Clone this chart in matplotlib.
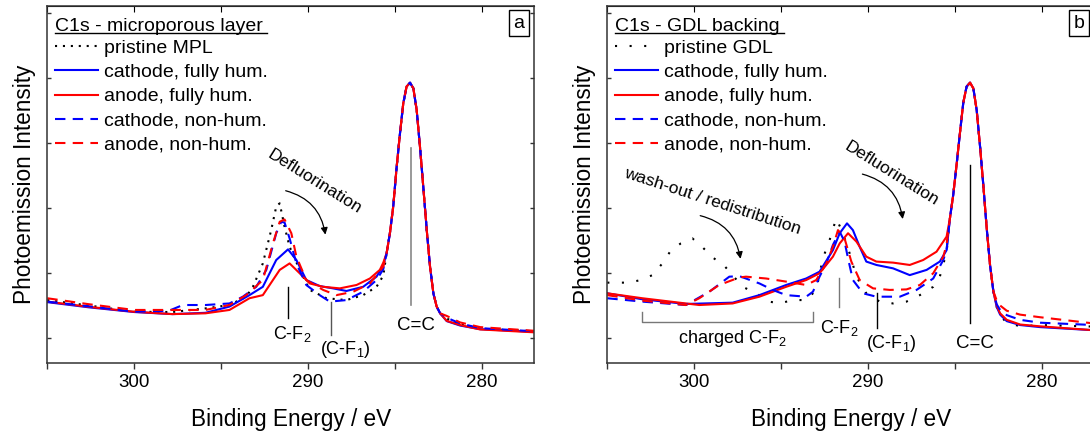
import numpy as np
import matplotlib
matplotlib.use('Agg')
import matplotlib.pyplot as plt
from matplotlib.ticker import MultipleLocator
from matplotlib.patches import FancyArrowPatch

plt.rcParams['font.family'] = ['Liberation Sans', 'DejaVu Sans']
plt.rcParams['mathtext.fontset'] = 'custom'
plt.rcParams['mathtext.rm'] = 'Liberation Sans'
plt.rcParams['mathtext.it'] = 'Liberation Sans:italic'

# ---- shared C=C main peak ----
pk_E = [285.48, 285.29, 285.10, 284.90, 284.71, 284.52, 284.33, 284.13, 283.94,
        283.75, 283.56, 283.37, 283.17, 282.98, 282.79, 282.60, 282.40]
pk_I = [0.326, 0.403, 0.505, 0.659, 0.787, 0.903, 0.967, 0.982, 0.960,
        0.877, 0.736, 0.582, 0.415, 0.274, 0.172, 0.121, 0.095]
tail_E = [282.02, 281.25, 280.10, 277.0]

# ---- panel a : microporous layer ----
a_mpl_E = [305.0, 302.6, 300.0, 297.8, 295.9, 294.52, 293.56, 293.17, 292.60, 292.12, 291.83,
           291.63, 291.35, 291.06, 290.48, 289.90, 288.94, 287.79, 286.83, 286.06, 285.67]
a_mpl_I = [0.146, 0.125, 0.101, 0.100, 0.114, 0.127, 0.159, 0.197, 0.287, 0.415, 0.505,
           0.518, 0.428, 0.351, 0.262, 0.185, 0.153, 0.146, 0.165, 0.197, 0.240]
a_mpl_tail = [0.075, 0.052, 0.036, 0.026]

a_cf_E = [305.0, 302.6, 300.0, 297.8, 295.9, 294.52, 293.37, 292.60, 291.83, 291.15, 290.67,
          290.10, 289.33, 288.56, 287.79, 286.83, 286.06, 285.67]
a_cf_I = [0.138, 0.118, 0.100, 0.092, 0.097, 0.121, 0.165, 0.197, 0.300, 0.341, 0.300,
          0.223, 0.200, 0.191, 0.181, 0.197, 0.236, 0.280]
a_cf_tail = [0.065, 0.048, 0.034, 0.024]

a_af_E = [305.0, 302.6, 300.0, 297.8, 295.9, 294.52, 293.37, 292.60, 291.63, 291.06, 290.48,
          289.90, 289.13, 288.17, 287.21, 286.44, 285.87, 285.67]
a_af_I = [0.140, 0.120, 0.101, 0.092, 0.095, 0.108, 0.153, 0.165, 0.262, 0.287, 0.249,
          0.210, 0.197, 0.191, 0.204, 0.229, 0.262, 0.290]
a_af_tail = [0.066, 0.050, 0.033, 0.022]

a_cn_E = [305.0, 302.6, 300.0, 298.0, 297.2, 295.9, 294.52, 293.75, 292.98, 292.40, 291.83,
          291.54, 291.35, 291.06, 290.67, 290.10, 289.33, 288.75, 287.79, 286.83, 286.06, 285.67]
a_cn_I = [0.140, 0.122, 0.101, 0.105, 0.127, 0.127, 0.133, 0.159, 0.197, 0.262, 0.403,
          0.447, 0.444, 0.383, 0.287, 0.204, 0.165, 0.140, 0.146, 0.178, 0.223, 0.265]
a_cn_tail = [0.078, 0.056, 0.038, 0.026]

a_an_E = [305.0, 302.6, 300.0, 297.8, 295.9, 294.52, 293.56, 292.60, 292.02, 291.63, 291.35,
          290.96, 290.67, 290.10, 289.13, 288.37, 287.40, 286.44, 285.67]
a_an_I = [0.153, 0.130, 0.108, 0.108, 0.108, 0.127, 0.165, 0.223, 0.364, 0.447, 0.456,
          0.403, 0.313, 0.223, 0.185, 0.165, 0.178, 0.210, 0.275]
a_an_tail = [0.085, 0.060, 0.042, 0.028]

# ---- panel b : GDL backing ----
pkb_E = [285.29, 285.10, 284.90, 284.71, 284.52, 284.33, 284.13, 283.94, 283.75, 283.56,
         283.37, 283.17, 282.98, 282.79]
pkb_I = [0.46, 0.55, 0.67, 0.79, 0.905, 0.967, 0.982, 0.960, 0.877, 0.74,
         0.59, 0.42, 0.28, 0.18]
tailb_E = [282.60, 282.40, 282.02, 281.25, 280.10, 277.0]

b_gdl_E = [305.0, 303.75, 303.08, 302.40, 301.83, 301.35, 300.77, 300.10, 299.52, 298.94, 298.27,
           297.21, 296.44, 295.67, 295.10, 294.33, 293.56, 292.98, 292.60, 292.21, 291.83, 291.44,
           291.06, 290.67, 290.10, 289.33, 288.56, 287.79, 287.02, 286.25, 285.87, 285.48]
b_gdl_I = [0.213, 0.213, 0.223, 0.242, 0.287, 0.336, 0.364, 0.383, 0.349, 0.310, 0.278,
           0.197, 0.172, 0.140, 0.133, 0.146, 0.146, 0.185, 0.306, 0.377, 0.460, 0.403,
           0.326, 0.236, 0.172, 0.140, 0.133, 0.140, 0.165, 0.197, 0.236, 0.330]
b_gdl_tail = [0.120, 0.085, 0.060, 0.045, 0.050, 0.044]

b_cf_E = [305.0, 302.98, 300.48, 297.79, 296.25, 294.71, 293.56, 292.79, 292.02, 291.63, 291.21,
          290.87, 290.48, 290.10, 289.52, 288.56, 287.60, 286.63, 285.87, 285.48]
b_cf_I = [0.172, 0.149, 0.131, 0.136, 0.165, 0.204, 0.229, 0.255, 0.338, 0.403, 0.441,
          0.415, 0.351, 0.294, 0.281, 0.268, 0.242, 0.262, 0.294, 0.338]
b_cf_tail = [0.120, 0.090, 0.065, 0.050, 0.042, 0.030]

b_af_E = [305.0, 302.98, 300.48, 299.71, 297.79, 296.25, 294.71, 293.56, 292.79, 292.02, 291.63,
          291.15, 290.67, 290.10, 289.52, 288.56, 287.60, 286.83, 286.06, 285.48]
b_af_I = [0.172, 0.153, 0.133, 0.127, 0.133, 0.159, 0.197, 0.223, 0.249, 0.313, 0.364,
          0.403, 0.371, 0.313, 0.294, 0.290, 0.281, 0.300, 0.332, 0.390]
b_af_tail = [0.125, 0.095, 0.070, 0.052, 0.045, 0.030]

b_cn_E = [305.0, 302.98, 300.48, 299.13, 297.98, 297.40, 296.25, 295.48, 294.71, 293.56, 293.17,
          292.79, 292.40, 292.02, 291.63, 291.35, 291.15, 290.87, 290.29, 289.52, 288.17, 287.21,
          286.25, 285.67, 285.48]
b_cn_I = [0.153, 0.140, 0.127, 0.178, 0.236, 0.238, 0.210, 0.185, 0.165, 0.159, 0.178,
          0.236, 0.287, 0.358, 0.409, 0.371, 0.306, 0.223, 0.172, 0.159, 0.159, 0.185,
          0.229, 0.300, 0.340]
b_cn_tail = [0.130, 0.108, 0.088, 0.070, 0.059, 0.050]

b_an_E = [305.0, 302.98, 300.48, 299.71, 298.56, 297.40, 297.02, 295.87, 294.71, 293.56, 292.98,
          292.40, 292.02, 291.73, 291.35, 290.96, 290.48, 289.71, 288.75, 287.79, 287.02, 286.25,
          285.67, 285.48]
b_an_I = [0.165, 0.144, 0.127, 0.153, 0.204, 0.233, 0.236, 0.229, 0.217, 0.204, 0.223,
          0.287, 0.351, 0.415, 0.383, 0.294, 0.223, 0.191, 0.185, 0.187, 0.204, 0.249,
          0.313, 0.360]
b_an_tail = [0.145, 0.125, 0.105, 0.090, 0.080, 0.056]

labels_a = ['pristine MPL', 'cathode, fully hum.', 'anode, fully hum.',
            'cathode, non-hum.', 'anode, non-hum.']
labels_b = ['pristine GDL', 'cathode, fully hum.', 'anode, fully hum.',
            'cathode, non-hum.', 'anode, non-hum.']

W, H = 1090, 433
fig = plt.figure(figsize=(W / 100, H / 100), dpi=100)
ax_a = fig.add_axes([47.3 / W, 70 / H, 486.7 / W, 357.3 / H])
ax_b = fig.add_axes([607.3 / W, 70 / H, 486.7 / W, 357.3 / H])

dash = (0, (5, 3.5))


def style_axes(ax, letter, title):
    ax.set_xlim(305, 277)
    ax.set_ylim(-0.096, 1.278)
    ax.xaxis.set_major_locator(MultipleLocator(10))
    ax.xaxis.set_minor_locator(MultipleLocator(5))
    ax.yaxis.set_major_locator(MultipleLocator(0.25))
    ax.tick_params(axis='x', which='both', direction='out', length=4, width=1,
                   labelsize=13.5, pad=4, colors='#333333', labelcolor='black')
    ax.tick_params(axis='y', which='both', direction='in', length=3, width=1,
                   left=True, right=True, labelleft=False, colors='#333333')
    ax.secondary_xaxis('top').tick_params(direction='in', length=4, labeltop=False)
    for s in ax.spines.values():
        s.set_color('#333333')
        s.set_linewidth(1.1)
    ax.set_xlabel('Binding Energy / eV', fontsize=16.3, labelpad=12)
    ax.set_ylabel('Photoemission Intensity', fontsize=16.3, labelpad=8)
    ax.text(0.98, 0.975, letter, transform=ax.transAxes, ha='right', va='top', fontsize=14,
            bbox=dict(boxstyle='square,pad=0.22', fc='white', ec='black', lw=1))
    t = ax.text(0.0158, 0.930, title, transform=ax.transAxes, ha='left', va='baseline',
                fontsize=14)
    ax.legend(loc='upper left', bbox_to_anchor=(0.0158, 0.905), frameon=False,
              fontsize=14, handlelength=2.2, handletextpad=0.3, labelspacing=0.33,
              borderaxespad=0, borderpad=0)
    return t


def arrow(ax, p0, p1, rad):
    ax.add_patch(FancyArrowPatch(p0, p1, connectionstyle='arc3,rad=%g' % rad,
                                 arrowstyle='-|>', mutation_scale=10, lw=0.9, color='black'))


# panel a
ax = ax_a
ax.plot(a_mpl_E + pk_E + tail_E, a_mpl_I + pk_I + a_mpl_tail, color='black', lw=1.5,
        linestyle=(0, (1, 2.8)), label=labels_a[0])
ax.plot(a_cf_E + pk_E + tail_E, a_cf_I + pk_I + a_cf_tail, color='#0000ff', lw=1.5, label=labels_a[1])
ax.plot(a_af_E + pk_E + tail_E, a_af_I + pk_I + a_af_tail, color='#ff0000', lw=1.5, label=labels_a[2])
ax.plot(a_cn_E + pk_E + tail_E, a_cn_I + pk_I + a_cn_tail, color='#0000ff', lw=1.5,
        linestyle=dash, label=labels_a[3])
ax.plot(a_an_E + pk_E + tail_E, a_an_I + pk_I + a_an_tail, color='#ff0000', lw=1.5,
        linestyle=dash, label=labels_a[4])
title_a = style_axes(ax, 'a', 'C1s - microporous layer')

ax.plot([291.15, 291.15], [0.076, 0.197], color='black', lw=1)
ax.text(290.92, 0.015, 'C-F$_2$', ha='center', va='center', fontsize=13)
ax.plot([288.7, 288.7], [0.012, 0.14], color='#555555', lw=1)
ax.text(287.88, -0.045, '(C-F$_1$)', ha='center', va='center', fontsize=13)
ax.plot([284.1, 284.1], [0.127, 0.73], color='#888888', lw=1.2)
ax.text(283.79, 0.05, 'C=C', ha='center', va='center', fontsize=13.5)
ax.text(289.6, 0.601, 'Defluorination', rotation=-32, rotation_mode='anchor',
        ha='center', va='center', fontsize=12.5)
arrow(ax, (291.44, 0.569), (288.98, 0.387), -0.35)

# panel b
ax = ax_b
ax.plot(b_gdl_E + pkb_E + tailb_E, b_gdl_I + pkb_I + b_gdl_tail, color='black', lw=1.5,
        linestyle=(0, (1, 6)), label=labels_b[0])
ax.plot(b_cf_E + pkb_E + tailb_E, b_cf_I + pkb_I + b_cf_tail, color='#0000ff', lw=1.5, label=labels_b[1])
ax.plot(b_af_E + pkb_E + tailb_E, b_af_I + pkb_I + b_af_tail, color='#ff0000', lw=1.5, label=labels_b[2])
ax.plot(b_cn_E + pkb_E + tailb_E, b_cn_I + pkb_I + b_cn_tail, color='#0000ff', lw=1.5,
        linestyle=dash, label=labels_b[3])
ax.plot(b_an_E + pkb_E + tailb_E, b_an_I + pkb_I + b_an_tail, color='#ff0000', lw=1.5,
        linestyle=dash, label=labels_b[4])
title_b = style_axes(ax, 'b', 'C1s - GDL backing')

ax.plot([302.98, 302.98, 293.17, 293.17], [0.101, 0.063, 0.063, 0.101], color='#777777', lw=1)
ax.text(297.79, 0.0, 'charged C-F$_2$', ha='center', va='center', fontsize=13)
ax.plot([291.69, 291.69], [0.12, 0.23], color='#777777', lw=1)
ax.text(291.63, 0.037, 'C-F$_2$', ha='center', va='center', fontsize=13)
ax.plot([289.48, 289.48], [0.037, 0.172], color='black', lw=1)
ax.text(288.65, -0.02, '(C-F$_1$)', ha='center', va='center', fontsize=13)
ax.plot([284.13, 284.13], [0.056, 0.665], color='black', lw=1)
ax.text(283.85, -0.02, 'C=C', ha='center', va='center', fontsize=13.5)
ax.text(298.94, 0.524, 'wash-out / redistribution', rotation=-18, rotation_mode='anchor',
        ha='center', va='center', fontsize=12.5)
arrow(ax, (299.81, 0.473), (297.31, 0.294), -0.35)
ax.text(288.62, 0.633, 'Defluorination', rotation=-32, rotation_mode='anchor',
        ha='center', va='center', fontsize=12.5)
arrow(ax, (290.48, 0.633), (287.98, 0.447), -0.35)

# underline the legend titles
fig.canvas.draw()
for axx, t in ((ax_a, title_a), (ax_b, title_b)):
    bb = t.get_window_extent().transformed(axx.transAxes.inverted())
    axx.plot([bb.x0, bb.x1 + 0.008], [bb.y0 + 0.004, bb.y0 + 0.004], transform=axx.transAxes,
             color='black', lw=1, clip_on=False)

fig.savefig('out.png', dpi=100)
